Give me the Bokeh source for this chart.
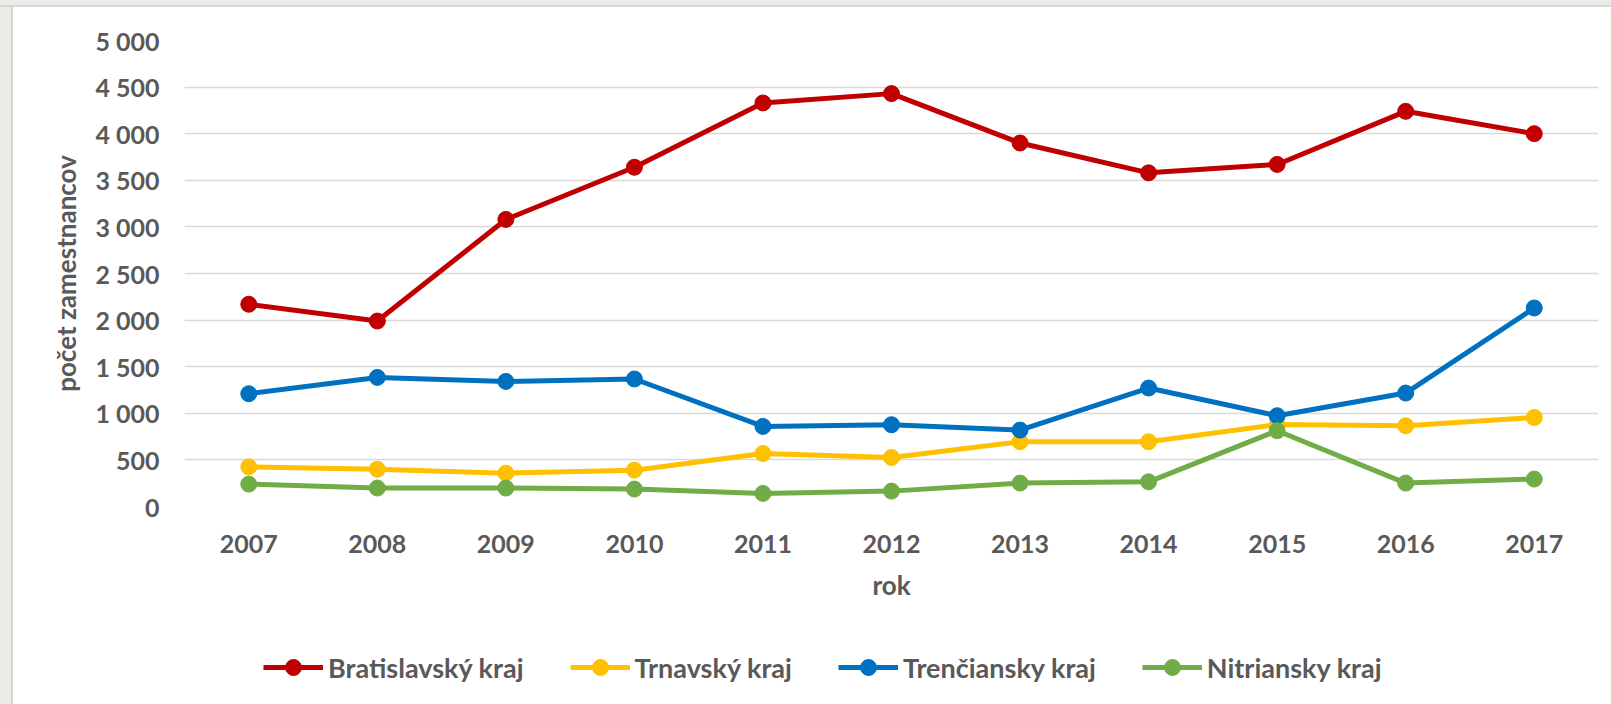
from bokeh.plotting import figure
from bokeh.layouts import column
from bokeh.models import FixedTicker, Legend, LegendItem, Range1d
from bokeh.embed import file_html
from bokeh.resources import INLINE

years = ["2007", "2008", "2009", "2010", "2011", "2012", "2013", "2014", "2015", "2016", "2017"]
bratislavsky = [2170, 1990, 3080, 3640, 4330, 4430, 3900, 3580, 3670, 4240, 4000]
trnavsky = [425, 400, 358, 390, 569, 526, 695, 695, 880, 866, 955]
trenciansky = [1210, 1385, 1342, 1368, 859, 877, 820, 1271, 974, 1217, 2130]
nitriansky = [240, 198, 198, 187, 140, 165, 251, 265, 813, 251, 294]

series_names = ["Bratislavský kraj", "Trnavský kraj", "Trenčiansky kraj", "Nitriansky kraj"]
series_values = [bratislavsky, trnavsky, trenciansky, nitriansky]
series_colors = ["#C00000", "#FFC000", "#0070C0", "#70AD47"]

y_ticks = [0, 500, 1000, 1500, 2000, 2500, 3000, 3500, 4000, 4500, 5000]
y_tick_labels = ["0", "500", "1 000", "1 500", "2 000", "2 500", "3 000", "3 500", "4 000", "4 500", "5 000"]

FONT = "Lato"
TXT = "#595959"

p = figure(x_range=years, y_range=Range1d(0, 5000),
           width=1611, height=636,
           output_backend="svg", toolbar_location=None)
p.frame_width = 1414
p.frame_height = 466
p.min_border_left = 184
p.min_border_top = 40
p.min_border_right = 13
p.min_border_bottom = 130
p.border_fill_color = None
p.background_fill_color = "white"
p.outline_line_color = None

p.xgrid.grid_line_color = None
p.ygrid.grid_line_color = "#D9D9D9"
p.ygrid.grid_line_width = 1.3

p.yaxis.ticker = FixedTicker(ticks=y_ticks)
p.yaxis.major_label_overrides = {t: l for t, l in zip(y_ticks, y_tick_labels)}

for ax in (p.xaxis[0], p.yaxis[0]):
    ax.axis_line_color = None
    ax.major_tick_line_color = None
    ax.minor_tick_line_color = None
    ax.major_label_text_font = FONT
    ax.major_label_text_font_style = "bold"
    ax.major_label_text_font_size = "25px"
    ax.major_label_text_color = TXT
    ax.axis_label_text_font = FONT
    ax.axis_label_text_font_style = "bold"
    ax.axis_label_text_font_size = "26px"
    ax.axis_label_text_color = TXT

p.xaxis.axis_label = "rok"
p.yaxis.axis_label = "počet zamestnancov"
p.xaxis.major_label_standoff = 22
p.xaxis.axis_label_standoff = 13
p.yaxis.major_label_standoff = 19
p.yaxis.axis_label_standoff = 10

for vals, col in zip(series_values, series_colors):
    p.line(years, vals, line_color=col, line_width=5)
    p.scatter(years, vals, size=16, fill_color=col, line_color=col)

# legend strip below the chart (its series sit outside its visible range)
lg = figure(x_range=years, y_range=Range1d(10000, 11000), width=1611, height=68,
            output_backend="svg", toolbar_location=None,
            x_axis_type=None, y_axis_type=None)
lg.min_border_left = 0
lg.min_border_right = 0
lg.min_border_top = 0
lg.min_border_bottom = 0
lg.border_fill_color = None
lg.background_fill_color = None
lg.outline_line_color = None
lg.grid.visible = False

items = []
for name, vals, col in zip(series_names, series_values, series_colors):
    lr = lg.line(years, vals, line_color=col, line_width=5)
    sr = lg.scatter(years, vals, size=16, fill_color=col, line_color=col)
    items.append(LegendItem(label=name, renderers=[lr, sr]))

legend = Legend(items=items, orientation="horizontal", location=(79, 17))
legend.glyph_width = 60
legend.glyph_height = 40
legend.label_standoff = 5
legend.spacing = 46
legend.padding = 0
legend.margin = 0
legend.border_line_color = None
legend.background_fill_alpha = 0
legend.label_text_font = FONT
legend.label_text_font_style = "bold"
legend.label_text_font_size = "27px"
legend.label_text_color = TXT
lg.add_layout(legend, "center")

layout = column(p, lg, spacing=0)

html = file_html(layout, INLINE)
css = ("<style>html{background:"
       "linear-gradient(to bottom,#EDEBE5 0,#EDEBE5 5px,#D6D6D6 5px,#D6D6D6 7px,rgba(255,255,255,0) 7px) no-repeat,"
       "linear-gradient(to right,#EDEBE5 0,#EDEBE5 11px,#D6D6D6 11px,#D6D6D6 13px,#FFFFFF 13px);}</style>")
html = html.replace("</head>", css + "</head>", 1)
open("out.html", "w").write(html)
